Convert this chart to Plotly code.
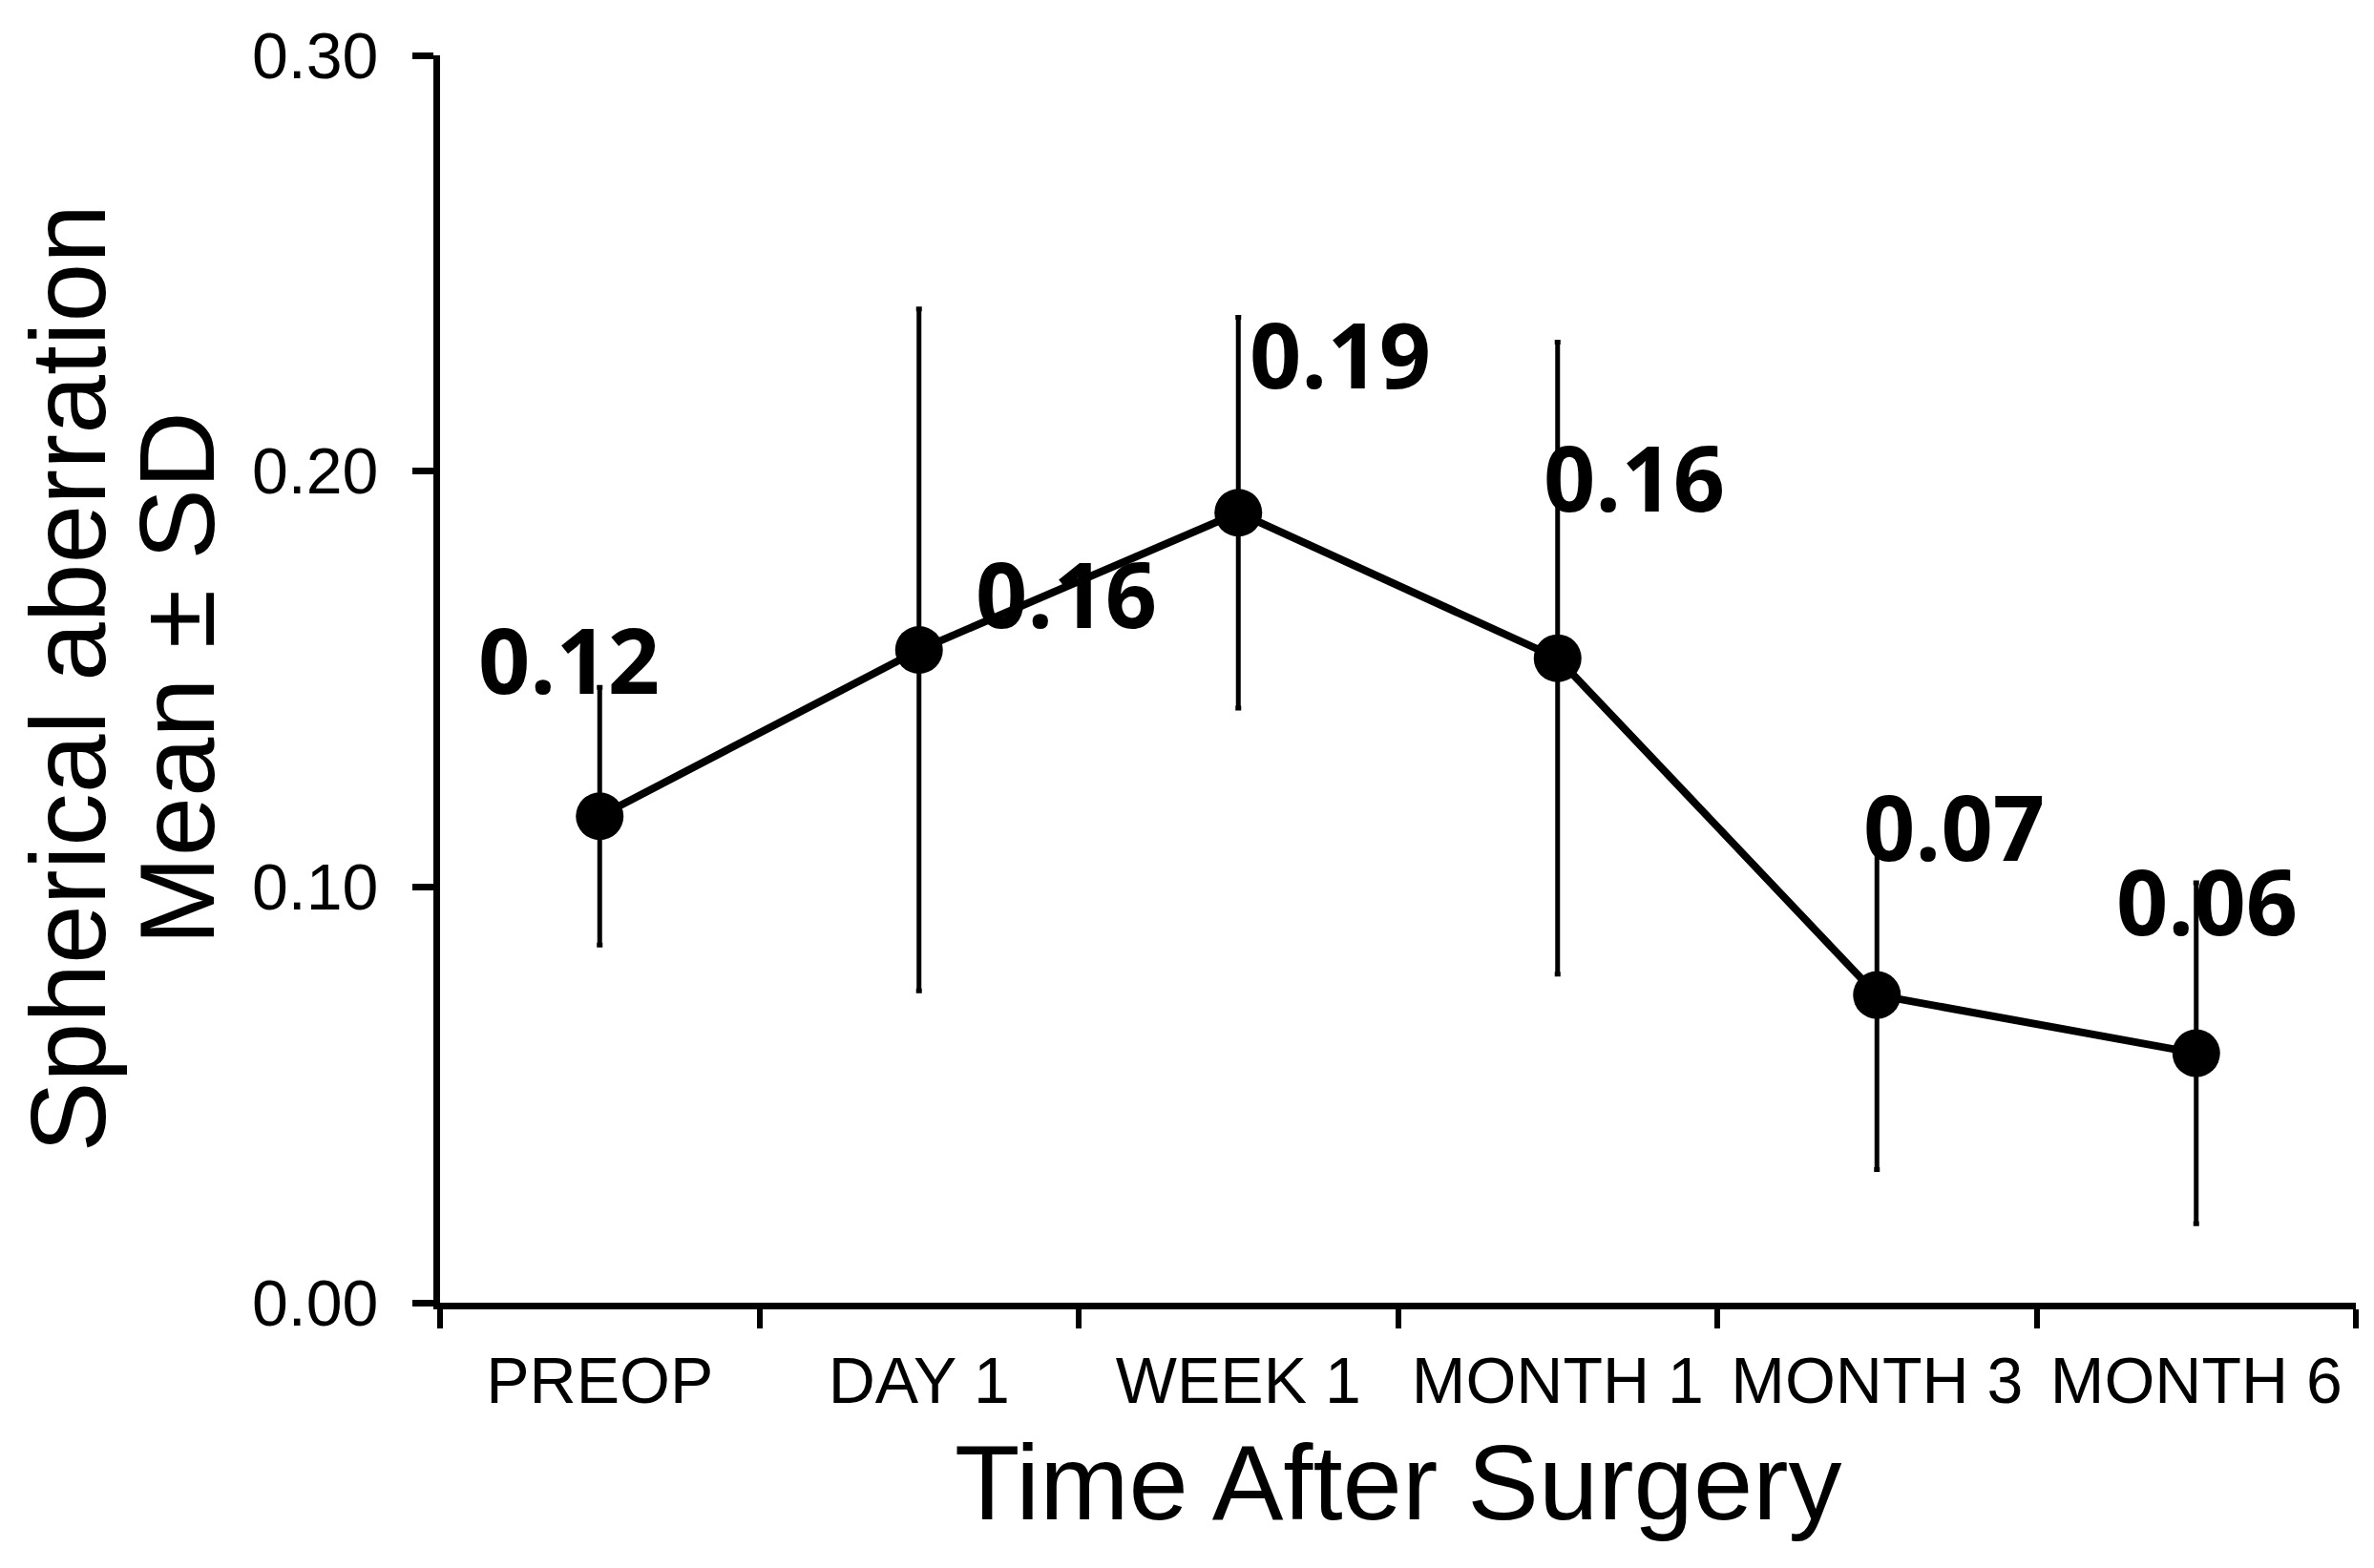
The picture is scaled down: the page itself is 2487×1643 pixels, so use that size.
import plotly.graph_objects as go

categories = ["PREOP", "DAY 1", "WEEK 1", "MONTH 1", "MONTH 3", "MONTH 6"]
means = [0.117, 0.157, 0.190, 0.155, 0.074, 0.060]
sds = [0.031, 0.082, 0.047, 0.076, 0.042, 0.041]
value_labels = ["0.12", "0.16", "0.19", "0.16", "0.07", "0.06"]
y_ticks = [0.0, 0.1, 0.2, 0.3]

# label offsets in pixels (dx, dy) relative to each point
label_dx = [-32, 154, 107, 80, 81, 11]
label_dy = [165, 60, 167, 191, 178, 161]

fig = go.Figure()
fig.add_trace(go.Scatter(
    x=categories, y=means, mode="lines+markers",
    line=dict(color="black", width=8),
    marker=dict(color="black", size=50),
    error_y=dict(type="data", array=sds, visible=True, color="black",
                 thickness=5, width=3),
    showlegend=False,
))

for c, m, t, dx, dy in zip(categories, means, value_labels, label_dx, label_dy):
    fig.add_annotation(x=c, y=m, text=t, showarrow=False, xshift=dx, yshift=dy,
                       xanchor="center", yanchor="middle",
                       font=dict(family="Open Sans", size=95, color="black", weight="bold"))

fig.add_annotation(xref="paper", yref="paper", x=0.5, y=0, yshift=-188,
                   text="Time After Surgery", showarrow=False,
                   xanchor="center", yanchor="middle",
                   font=dict(family="Liberation Sans, Arial", size=112, color="black"))
fig.add_annotation(xref="paper", yref="paper", x=0, y=0.5, xshift=-390,
                   text="Spherical aberration", showarrow=False, textangle=-90,
                   xanchor="center", yanchor="middle",
                   font=dict(family="Liberation Sans, Arial", size=111, color="black"))
fig.add_annotation(xref="paper", yref="paper", x=0, y=0.5, xshift=-276,
                   text="Mean ± SD", showarrow=False, textangle=-90,
                   xanchor="center", yanchor="middle",
                   font=dict(family="Liberation Sans, Arial", size=112, color="black"))

fig.update_layout(
    width=2479, height=1635,
    margin=dict(l=453, r=19, t=41, b=278),
    plot_bgcolor="white", paper_bgcolor="white",
    font=dict(family="Liberation Sans, Arial", color="black"),
)
fig.update_xaxes(
    type="category", tickson="boundaries", range=[-0.5, 5.5],
    showline=True, linecolor="black", linewidth=7,
    ticks="outside", ticklen=20, tickwidth=6, tickcolor="black",
    ticklabelstandoff=16, ticklabeloverflow="allow",
    showgrid=False, zeroline=False,
    tickfont=dict(family="Liberation Sans, Arial", size=68, color="black"),
)
fig.update_yaxes(
    range=[0, 0.30], tickvals=y_ticks, tickformat=".2f",
    showline=True, linecolor="black", linewidth=7,
    ticks="outside", ticklen=22, tickwidth=7, tickcolor="black",
    ticklabelstandoff=22, ticklabeloverflow="allow",
    showgrid=False, zeroline=False,
    tickfont=dict(family="Liberation Sans, Arial", size=68, color="black"),
)

fig.write_html("out.html")
